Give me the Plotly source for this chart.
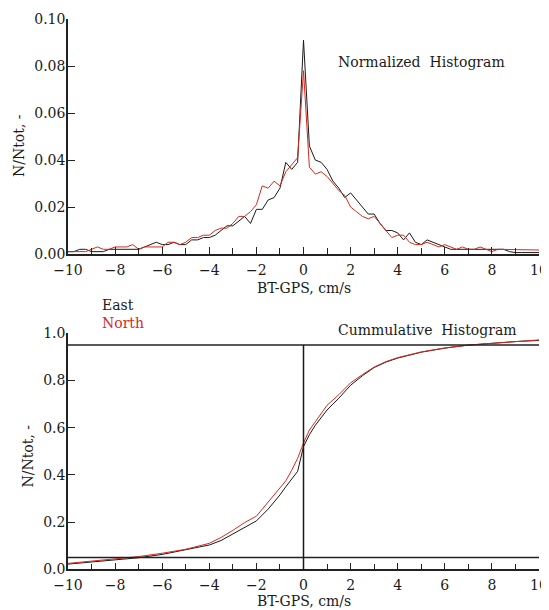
import plotly.graph_objects as go

# ---------------- data ----------------
hist_x = [round(-10 + 0.25 * i, 2) for i in range(81)]  # bin centres, cm/s

east_hist = [
    0.001, 0.001, 0.002, 0.002, 0.001, 0.001, 0.001, 0.002, 0.002, 0.002,
    0.002, 0.002, 0.002, 0.003, 0.004, 0.005, 0.004, 0.004, 0.005, 0.004,
    0.004, 0.006, 0.006, 0.007, 0.007, 0.008, 0.010, 0.012, 0.012, 0.014,
    0.016, 0.013, 0.019, 0.019, 0.023, 0.024, 0.028, 0.039, 0.036, 0.039,
    0.091, 0.046, 0.040, 0.039, 0.036, 0.031, 0.028, 0.024, 0.026, 0.023,
    0.020, 0.017, 0.017, 0.013, 0.010, 0.010, 0.009, 0.006, 0.009, 0.005,
    0.004, 0.006, 0.005, 0.004, 0.003, 0.002, 0.002, 0.002, 0.002, 0.002,
    0.002, 0.002, 0.002, 0.002, 0.002, 0.001, 0.0006, 0.0006, 0.0006, 0.0006,
    0.0006,
]

north_hist = [
    0.001, 0.001, 0.001, 0.001, 0.002, 0.003, 0.002, 0.002, 0.003, 0.003,
    0.003, 0.004, 0.002, 0.003, 0.003, 0.003, 0.003, 0.005, 0.005, 0.004,
    0.005, 0.007, 0.007, 0.008, 0.008, 0.010, 0.011, 0.011, 0.013, 0.016,
    0.016, 0.018, 0.021, 0.029, 0.028, 0.031, 0.029, 0.035, 0.038, 0.041,
    0.078, 0.037, 0.034, 0.035, 0.033, 0.030, 0.027, 0.025, 0.020, 0.018,
    0.016, 0.015, 0.016, 0.013, 0.010, 0.007, 0.008, 0.008, 0.005, 0.004,
    0.004, 0.005, 0.004, 0.003, 0.004, 0.003, 0.002, 0.003, 0.002, 0.002,
    0.003, 0.002, 0.001, 0.002, 0.002, 0.002, 0.002, 0.0017, 0.0017, 0.0017,
    0.0017,
]

cum_x = [-10, -9, -8, -7, -6, -5, -4, -3.5, -3, -2.5, -2, -1.5, -1, -0.75, -0.5,
         -0.25, 0, 0.25, 0.5, 0.75, 1, 1.5, 2, 2.5, 3, 3.5, 4, 5, 6, 7, 8, 9, 10]

east_cum = [0.022, 0.030, 0.039, 0.049, 0.063, 0.082, 0.103, 0.122, 0.150, 0.178,
            0.205, 0.255, 0.315, 0.350, 0.381, 0.415, 0.520, 0.570, 0.610, 0.640,
            0.675, 0.725, 0.780, 0.820, 0.855, 0.878, 0.895, 0.920, 0.937, 0.950,
            0.958, 0.965, 0.970]

north_cum = [0.025, 0.034, 0.044, 0.054, 0.068, 0.085, 0.110, 0.135, 0.165, 0.198,
             0.225, 0.285, 0.345, 0.375, 0.420, 0.470, 0.535, 0.590, 0.625, 0.660,
             0.695, 0.740, 0.790, 0.825, 0.857, 0.880, 0.897, 0.921, 0.938, 0.950,
             0.958, 0.966, 0.972]

series_names = ["East", "North"]
x_title = "BT-GPS, cm/s"
y_title = "N/Ntot, -"
top_label = "Normalized\u00a0 Histogram"
bottom_label = "Cummulative\u00a0 Histogram"
ref_levels = [0.05, 0.95]

# ---------------- styling ----------------
W, H = 549, 610
OFF = 8  # page body margin in the browser
BLACK = "#1a1a1a"
RED = "#d42a1e"
AXC = "#222222"
FONT = "DejaVu Serif"
FS = 14


def fx(p):
    return (p - OFF) / W


def fy(p):
    return 1 - (p - OFF) / H


fig = go.Figure()
fig.add_trace(go.Scatter(x=hist_x, y=east_hist, mode="lines", name=series_names[0],
                         line=dict(color=BLACK, width=1), xaxis="x", yaxis="y"))
fig.add_trace(go.Scatter(x=hist_x, y=north_hist, mode="lines", name=series_names[1],
                         line=dict(color=RED, width=1), xaxis="x", yaxis="y"))
fig.add_trace(go.Scatter(x=cum_x, y=east_cum, mode="lines", name=series_names[0],
                         line=dict(color=BLACK, width=1), xaxis="x2", yaxis="y2"))
fig.add_trace(go.Scatter(x=cum_x, y=north_cum, mode="lines", name=series_names[1],
                         line=dict(color=RED, width=1), xaxis="x2", yaxis="y2"))

xdom = [fx(68), fx(539)]
xcommon = dict(domain=xdom, range=[-10, 10], tick0=-10, dtick=2, ticks="inside",
               ticklen=7, tickwidth=1, tickcolor=AXC, showline=True, linecolor=AXC,
               linewidth=1.5, showgrid=False, zeroline=False, ticklabelstandoff=2,
               automargin=False,
               minor=dict(dtick=1, ticks="inside", ticklen=6, tickcolor=AXC, showgrid=False),
               tickfont=dict(family=FONT, size=FS, color=BLACK))
ycommon = dict(ticks="inside", ticklen=7, tickwidth=1, tickcolor=AXC, showline=True,
               linecolor=AXC, linewidth=1.5, showgrid=False, zeroline=False,
               automargin=False,
               ticklabelstandoff=-2, tickfont=dict(family=FONT, size=FS, color=BLACK))

fig.update_layout(
    width=W, height=H,
    autosize=False,
    margin=dict(l=0, r=0, t=0, b=0, pad=0, autoexpand=False),
    paper_bgcolor="white", plot_bgcolor="white",
    showlegend=False,
    xaxis=dict(anchor="y", **xcommon),
    yaxis=dict(anchor="x", domain=[fy(254), fy(19)], range=[0, 0.10],
               tickvals=[0, 0.02, 0.04, 0.06, 0.08, 0.10], tickformat=".2f", **ycommon),
    xaxis2=dict(anchor="y2", **xcommon),
    yaxis2=dict(anchor="x2", domain=[fy(569.3), fy(333.3)], range=[0, 1.0],
                tickvals=[0, 0.2, 0.4, 0.6, 0.8, 1.0], tickformat=".1f", **ycommon),
)

shapes = []
for lv in ref_levels:
    shapes.append(dict(type="line", xref="x2", yref="y2", x0=-10, x1=10, y0=lv, y1=lv,
                       line=dict(color=AXC, width=1.5)))
shapes.append(dict(type="line", xref="x2", yref="y2", x0=0, x1=0, y0=0, y1=max(ref_levels),
                   line=dict(color=BLACK, width=1.5)))
fig.update_layout(shapes=shapes)

tf = dict(family=FONT, size=FS, color=BLACK)
ann = [
    dict(text=top_label, x=fx(336), y=fy(61.5), xanchor="left", yanchor="middle"),
    dict(text=bottom_label, x=fx(336), y=fy(329.5), xanchor="left", yanchor="middle"),
    dict(text=x_title, x=fx(303.5), y=fy(288), xanchor="center", yanchor="middle"),
    dict(text=x_title, x=fx(303.5), y=fy(601), xanchor="center", yanchor="middle"),
    dict(text=y_title, x=fx(19), y=fy(146), xanchor="center", yanchor="middle", textangle=-90),
    dict(text=y_title, x=fx(27.5), y=fy(456), xanchor="center", yanchor="middle", textangle=-90),
    dict(text=series_names[0], x=fx(100), y=fy(305), xanchor="left", yanchor="middle"),
    dict(text=series_names[1], x=fx(100), y=fy(323), xanchor="left", yanchor="middle",
         font=dict(family=FONT, size=FS, color=RED)),
]
for a in ann:
    a.setdefault("font", tf)
    a.update(xref="paper", yref="paper", showarrow=False)
fig.update_layout(annotations=ann)

fig.write_html("out.html")
